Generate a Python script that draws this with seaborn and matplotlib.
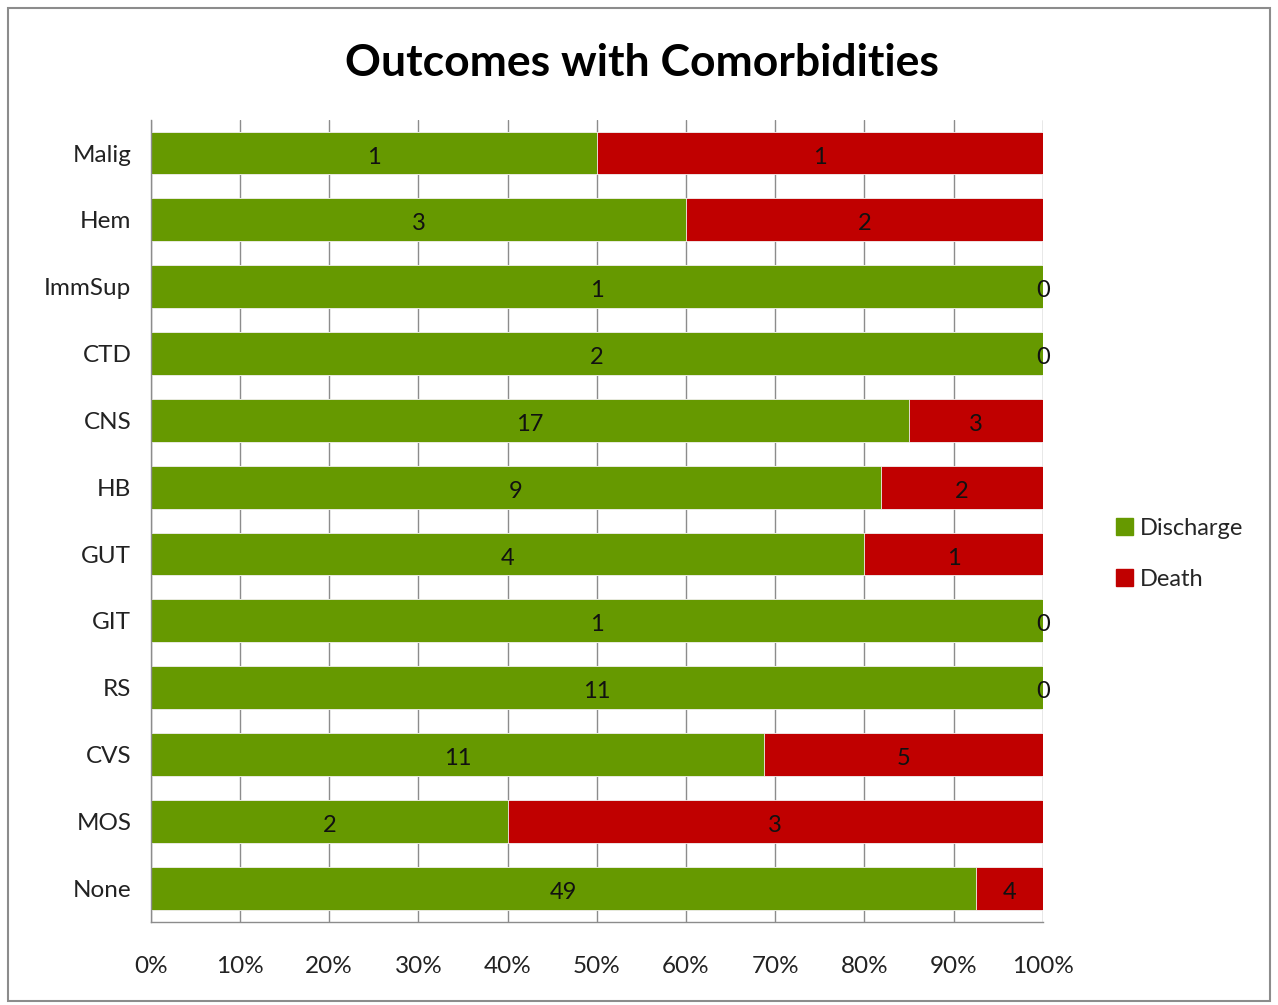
import matplotlib
matplotlib.use("Agg")
import matplotlib.pyplot as plt
import matplotlib.patches as mpatches
from matplotlib.ticker import PercentFormatter
import pandas as pd
import seaborn as sns

categories = ["Malig", "Hem", "ImmSup", "CTD", "CNS", "HB", "GUT", "GIT", "RS", "CVS", "MOS", "None"]
discharge = [1, 3, 1, 2, 17, 9, 4, 1, 11, 11, 2, 49]
death = [1, 2, 0, 0, 3, 2, 1, 0, 0, 5, 3, 4]

GREEN = "#669900"
RED = "#C00000"
GRID = "#8c8c8c"

df = pd.DataFrame({"category": categories, "Discharge": discharge, "Death": death})
df["total"] = df["Discharge"] + df["Death"]
df["dis_pct"] = df["Discharge"] / df["total"] * 100
df["full_pct"] = 100.0

sns.set_theme(style="white")
plt.rcParams["font.family"] = ["Lato", "DejaVu Sans"]

fig = plt.figure(figsize=(12.78, 10.05), dpi=100)
ax = fig.add_axes([0.118, 0.083, 0.698, 0.798])

# Stacked 100% bars: full-length death bar underneath, discharge share on top
sns.barplot(data=df, x="full_pct", y="category", color=RED, width=0.64,
            saturation=1, edgecolor="#f2f2f2", linewidth=0.6, ax=ax,
            order=categories)
sns.barplot(data=df, x="dis_pct", y="category", color=GREEN, width=0.64,
            saturation=1, edgecolor="#f2f2f2", linewidth=0.6, ax=ax,
            order=categories)

# Segment value labels
for i, row in df.iterrows():
    d_pct = row["dis_pct"]
    ax.text(d_pct / 2, i + 0.03, str(row["Discharge"]), ha="center",
            va="center_baseline", fontsize=17, color="#111111")
    ax.text(d_pct + (100 - d_pct) / 2, i + 0.03, str(row["Death"]),
            ha="center", va="center_baseline", fontsize=17, color="#111111")

ax.set_xlim(0, 100)
ax.set_ylim(len(categories) - 0.5, -0.5)
ax.set_xticks(range(0, 101, 10))
ax.xaxis.set_major_formatter(PercentFormatter(decimals=0))
ax.set_xlabel("")
ax.set_ylabel("")
ax.grid(axis="x", color=GRID, linewidth=1.0)
ax.set_axisbelow(True)
for side in ["top", "right"]:
    ax.spines[side].set_visible(False)
for side in ["left", "bottom"]:
    ax.spines[side].set_color(GRID)
    ax.spines[side].set_linewidth(1.0)
ax.tick_params(axis="x", labelsize=17.5, colors="#222222", pad=25, length=0)
ax.tick_params(axis="y", labelsize=17.5, colors="#222222", pad=14, length=0)

fig.suptitle("Outcomes with Comorbidities", x=0.502, y=0.957, fontsize=32,
             fontweight="bold", color="black")

handles = [mpatches.Patch(color=GREEN, label="Discharge"),
           mpatches.Patch(color=RED, label="Death")]
fig.legend(handles=handles, loc="center left", bbox_to_anchor=(0.857, 0.449),
           frameon=False, fontsize=17, handlelength=0.7, handleheight=0.7,
           handletextpad=0.3, labelspacing=1.25)

# Outer chart border
fig.patches.append(mpatches.Rectangle((0.006, 0.004), 0.988, 0.988,
                                      transform=fig.transFigure, fill=False,
                                      edgecolor="#8c8c8c", linewidth=1.5))

fig.savefig("out.png", dpi=100)
